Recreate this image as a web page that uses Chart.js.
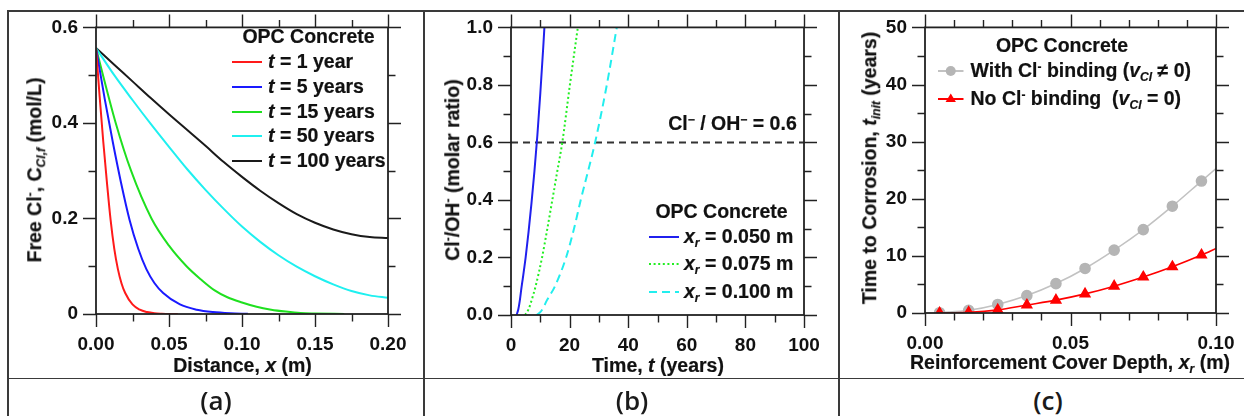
<!DOCTYPE html>
<html><head><meta charset="utf-8">
<script src="https://cdn.jsdelivr.net/npm/chart.js@4/dist/chart.umd.min.js"></script>
<style>
html,body{margin:0;padding:0;background:#fff;}
body{width:1244px;height:416px;overflow:hidden;position:relative;font-family:"Liberation Sans",Arial,sans-serif;}
canvas{position:absolute;}
.ln{position:absolute;background:#3a3a3a;}
.t{position:absolute;white-space:nowrap;font-weight:bold;font-size:19.5px;color:#111;line-height:1;-webkit-text-stroke:0.2px #111;}
.c{transform:translate(-50%,-50%);}
.l{transform:translate(0,-50%);}
.r{transform:translate(-50%,-50%) rotate(-90deg);}
sub,sup{font-size:0.62em;line-height:0;}
sub{vertical-align:-0.3em;}
sup{vertical-align:0.55em;}
.lab{position:absolute;font-family:"Open Sans",sans-serif;font-size:26px;font-weight:600;color:#1a1a1a;transform:translate(-50%,-50%);line-height:1;}
svg{position:absolute;overflow:visible;}
</style>
</head><body>
<canvas id="ca" width="416" height="367" style="left:8px;top:11px"></canvas>
<canvas id="cb" width="415" height="367" style="left:424px;top:11px"></canvas>
<canvas id="cc" width="405" height="367" style="left:839px;top:11px"></canvas>

<!-- table lines -->
<div class="ln" style="left:7px;top:10px;width:1237px;height:1.5px"></div>
<div class="ln" style="left:7px;top:377.5px;width:1237px;height:1.5px"></div>
<div class="ln" style="left:7px;top:10px;width:1.5px;height:406px"></div>
<div class="ln" style="left:423px;top:10px;width:1.5px;height:406px"></div>
<div class="ln" style="left:838px;top:10px;width:1.5px;height:406px"></div>

<!-- panel a texts -->
<div class="t c" style="left:242.5px;top:366px">Distance, <i>x</i> (m)</div>
<div class="t r" style="left:34.5px;top:170px">Free Cl<sup>-</sup>, C<sub><i>Cl,f</i></sub> (mol/L)</div>
<div class="t c" style="left:308.5px;top:37px">OPC Concrete</div>
<div id="legA"></div>
<div class="lab" style="left:216px;top:400px">(a)</div>

<!-- panel b texts -->
<div class="t c" style="left:658px;top:366px">Time, <i>t</i> (years)</div>
<div class="t r" style="left:452.5px;top:170px">Cl<sup>-</sup>/OH<sup>-</sup> (molar ratio)</div>
<div class="t c" style="left:732.5px;top:123.5px">Cl<sup>−</sup> / OH<sup>−</sup> = 0.6</div>
<div class="t c" style="left:721.5px;top:212px">OPC Concrete</div>
<div id="legB"></div>
<div class="lab" style="left:632px;top:400px">(b)</div>

<!-- panel c texts -->
<div class="t c" style="left:1070px;top:363px">Reinforcement Cover Depth, <i>x<sub>r</sub></i> (m)</div>
<div class="t r" style="left:870px;top:167.5px">Time to Corrosion, <i>t<sub>init</sub></i> (years)</div>
<div class="t c" style="left:1062px;top:46px">OPC Concrete</div>
<div id="legC"></div>
<div class="lab" style="left:1048px;top:400px">(c)</div>

<script>
// ---------------- DATA ----------------
// Panel (a): free chloride profile vs distance
const aXRed   = [0,0.0025,0.005,0.0075,0.01,0.0125,0.015,0.0175,0.02,0.025,0.03,0.035,0.04,0.045,0.05,0.056];
const aYRed   = [0.557,0.455,0.36,0.275,0.197,0.137,0.094,0.064,0.044,0.020,0.009,0.004,0.0015,0.0005,0,0];
const aXBlue  = [0,0.006,0.0115,0.017,0.023,0.029,0.0345,0.040,0.046,0.0575,0.069,0.080,0.092,0.104];
const aYBlue  = [0.557,0.450,0.360,0.277,0.197,0.136,0.094,0.065,0.044,0.020,0.009,0.004,0.0015,0.0005];
const aXGreen = [0,0.0135,0.024,0.038,0.05,0.062,0.072,0.081,0.09,0.1,0.11,0.12,0.13,0.14,0.15,0.17];
const aYGreen = [0.557,0.40,0.30,0.20,0.143,0.10,0.072,0.050,0.035,0.024,0.015,0.009,0.005,0.002,0.001,0];
const aXLong  = [0,0.0125,0.025,0.0375,0.05,0.0625,0.075,0.0875,0.1,0.1125,0.125,0.1375,0.15,0.1625,0.175,0.1875,0.2];
const aYCyan  = [0.557,0.500,0.448,0.398,0.350,0.303,0.260,0.220,0.183,0.151,0.123,0.099,0.079,0.062,0.048,0.039,0.034];
const aYBlack = [0.557,0.522,0.487,0.452,0.418,0.385,0.352,0.318,0.287,0.258,0.232,0.209,0.191,0.177,0.167,0.161,0.159];
const aSeriesNames = ['1 year','5 years','15 years','50 years','100 years'];
const aXTicks = [0,0.05,0.1,0.15,0.2];
const aXTickLabels = ['0.00','0.05','0.10','0.15','0.20'];
const aXMinor = [0.025,0.075,0.125,0.175];
const aYTicks = [0,0.2,0.4,0.6];
const aYTickLabels = ['0','0.2','0.4','0.6'];
const aYMinor = [0.1,0.3,0.5];

// Panel (b): Cl-/OH- ratio vs time
const bXBlue  = [1.9,2.5,3,3.6,4,5,6,7,8,9,10,11,11.4];
const bYBlue  = [0,0.02,0.05,0.097,0.125,0.20,0.29,0.39,0.50,0.625,0.77,0.93,1.0];
const bXGreen = [4.8,6,7,8.4,10.6,12.4,14.1,15.8,17.5,20.1,22.8];
const bYGreen = [0,0.02,0.05,0.10,0.20,0.30,0.40,0.50,0.60,0.80,1.0];
const bXCyan  = [8.8,10,11,12.2,15,18.8,21.5,23.8,26.3,28.7,32.7,36.1];
const bYCyan  = [0,0.01,0.025,0.05,0.10,0.20,0.30,0.40,0.50,0.60,0.80,1.0];
const bThreshold = 0.6;
const bSeriesNames = ['0.050 m','0.075 m','0.100 m'];
const bXTicks = [0,20,40,60,80,100];
const bXTickLabels = ['0','20','40','60','80','100'];
const bXMinor = [10,30,50,70,90];
const bYTicks = [0,0.2,0.4,0.6,0.8,1.0];
const bYTickLabels = ['0.0','0.2','0.4','0.6','0.8','1.0'];
const bYMinor = [0.1,0.3,0.5,0.7,0.9];

// Panel (c): time to corrosion vs cover depth
const cX     = [0.005,0.015,0.025,0.035,0.045,0.055,0.065,0.075,0.085,0.095,0.1];
const cYGray = [0.05,0.47,1.5,3.05,5.15,7.8,11.0,14.6,18.7,23.1,25.3];
const cYRed  = [0,0.12,0.55,1.4,2.25,3.35,4.7,6.3,8.1,10.15,11.3];
const cMarked = [1,1,1,1,1,1,1,1,1,1,0];
const cXTicks = [0,0.05,0.1];
const cXTickLabels = ['0.00','0.05','0.10'];
const cXMinor = [0.01,0.02,0.03,0.04,0.06,0.07,0.08,0.09];
const cYTicks = [0,10,20,30,40,50];
const cYTickLabels = ['0','10','20','30','40','50'];
const cYMinor = [5,15,25,35,45];

// ---------------- HELPERS ----------------
const pts = (xs, ys) => xs.map((x, i) => ({x, y: ys[i]}));
const FONT = {family: '"Liberation Sans", Arial, sans-serif', size: 19, weight: 'bold'};

const frameTicks = {
  id: 'frameTicks',
  afterDatasetsDraw(chart, args, o) {
    const {ctx, chartArea: {left, right, top, bottom}, scales: {x, y}} = chart;
    ctx.save();
    ctx.strokeStyle = '#222';
    ctx.lineCap = 'butt';
    ctx.lineWidth = 1.4;
    const M = 13, m = 7.5;
    ctx.beginPath();
    const xt = (vals, len) => vals.forEach(v => {
      const p = Math.round(x.getPixelForValue(v)) + 0.5;
      ctx.moveTo(p, bottom); ctx.lineTo(p, bottom + len);
      ctx.moveTo(p, top); ctx.lineTo(p, top - len);
    });
    const yt = (vals, len) => vals.forEach(v => {
      const p = Math.round(y.getPixelForValue(v)) + 0.5;
      ctx.moveTo(left, p); ctx.lineTo(left - len, p);
      ctx.moveTo(right, p); ctx.lineTo(right + len, p);
    });
    xt(o.xMajor, M); xt(o.xMinor, m); yt(o.yMajor, M); yt(o.yMinor, m);
    ctx.stroke();
    ctx.lineWidth = 1.8;
    ctx.strokeRect(left, top, right - left, bottom - top);
    ctx.restore();
  }
};

function makeChart(id, datasets, sx, sy, geom, tk) {
  return new Chart(document.getElementById(id), {
    type: 'line',
    data: {datasets},
    plugins: [frameTicks],
    options: {
      responsive: false, animation: false, events: [],
      layout: {padding: {left: 0, right: geom.padR, top: geom.padT, bottom: 0}},
      plugins: {legend: {display: false}, tooltip: {enabled: false}, frameTicks: tk},
      scales: {
        x: Object.assign({
          type: 'linear', position: 'bottom',
          grid: {display: false, drawTicks: true, tickLength: 13},
          border: {display: false},
          afterFit: s => { s.height = geom.xH; }
        }, sx),
        y: Object.assign({
          type: 'linear', position: 'left',
          grid: {display: false, drawTicks: true, tickLength: 13},
          border: {display: false},
          afterFit: s => { s.width = geom.yW; }
        }, sy)
      }
    }
  });
}
function tickScale(min, max, vals, labels, pad) {
  return {
    min, max,
    afterBuildTicks: s => { s.ticks = vals.map(v => ({value: v})); },
    ticks: {autoSkip: false, maxRotation: 0, padding: pad, color: '#111', font: FONT,
            callback: (v, i) => labels[i]}
  };
}
const line = (data, color, extra) => Object.assign({
  data, borderColor: color, backgroundColor: color, borderWidth: 2,
  pointRadius: 0, fill: false, cubicInterpolationMode: 'monotone'
}, extra || {});

// ---------------- PANEL A ----------------
const aColors = ['#ff1a1a', '#1a1aff', '#1fe01f', '#1ff0f0', '#1a1a1a'];
makeChart('ca', [
  line(pts(aXRed, aYRed), aColors[0]),
  line(pts(aXBlue, aYBlue), aColors[1]),
  line(pts(aXGreen, aYGreen), aColors[2]),
  line(pts(aXLong, aYCyan), aColors[3]),
  line(pts(aXLong, aYBlack), aColors[4])
], tickScale(0, 0.2, aXTicks, aXTickLabels, 6), tickScale(0, 0.6, aYTicks, aYTickLabels, 5),
  {padR: 36, padT: 13, xH: 64, yW: 88},
  {xMajor: aXTicks, xMinor: aXMinor, yMajor: aYTicks, yMinor: aYMinor});

// ---------------- PANEL B ----------------
const bColors = ['#2020ee', '#22ee22', '#22eeee'];
const bDash = [[], [2, 2.6], [8, 5]];
makeChart('cb', [
  line(pts(bXBlue, bYBlue), bColors[0]),
  line(pts(bXGreen, bYGreen), bColors[1], {borderDash: bDash[1]}),
  line(pts(bXCyan, bYCyan), bColors[2], {borderDash: bDash[2]}),
  line(pts([0, 100], [bThreshold, bThreshold]), '#333', {borderDash: [7, 5], cubicInterpolationMode: 'default', tension: 0})
], tickScale(0, 100, bXTicks, bXTickLabels, 6), tickScale(0, 1.0, bYTicks, bYTickLabels, 5),
  {padR: 35, padT: 13, xH: 63, yW: 87},
  {xMajor: bXTicks, xMinor: bXMinor, yMajor: bYTicks, yMinor: bYMinor});

// ---------------- PANEL C ----------------
makeChart('cc', [
  line(pts(cX, cYRed), '#ff0000', {borderWidth: 1.6, pointStyle: 'triangle', pointRadius: cMarked.map(k => k ? 5.5 : 0), order: 1}),
  line(pts(cX, cYGray), '#c2c2c2', {borderWidth: 1.6, pointStyle: 'circle', pointRadius: cMarked.map(k => k ? 5 : 0), pointBackgroundColor: '#b5b5b5', pointBorderColor: '#b5b5b5', order: 2})
], tickScale(0, 0.1, cXTicks, cXTickLabels, 6), tickScale(0, 50, cYTicks, cYTickLabels, 5),
  {padR: 28, padT: 13, xH: 65, yW: 86},
  {xMajor: cXTicks, xMinor: cXMinor, yMajor: cYTicks, yMinor: cYMinor});

// ---------------- LEGENDS ----------------
function sample(x1, x2, y, color, dash, marker) {
  const w = x2 - x1;
  let s = `<svg style="left:${x1}px;top:${y - 8}px" width="${w}" height="16">` +
          `<line x1="0" y1="8" x2="${w}" y2="8" stroke="${color}" stroke-width="2" ${dash ? `stroke-dasharray="${dash}"` : ''}/>`;
  if (marker === 'circle') s += `<circle cx="${w / 2}" cy="8" r="5" fill="#b5b5b5"/>`;
  if (marker === 'triangle') s += `<polygon points="${w / 2},2.5 ${w / 2 + 5.2},11 ${w / 2 - 5.2},11" fill="#ff0000"/>`;
  return s + '</svg>';
}
let h = '';
const aRows = [61.7, 86.7, 111.7, 136.2, 160.7];
aSeriesNames.forEach((n, i) => {
  h += sample(231.5, 261.5, aRows[i], aColors[i]);
  h += `<div class="t l" style="left:268px;top:${aRows[i]}px"><i>t</i> = ${n}</div>`;
});
document.getElementById('legA').innerHTML = h;

h = '';
const bRows = [236.7, 264.3, 292.3];
bSeriesNames.forEach((n, i) => {
  h += sample(648.5, 678.5, bRows[i], bColors[i], bDash[i].join(' '));
  h += `<div class="t l" style="left:684px;top:${bRows[i]}px"><i>x<sub>r</sub></i> = ${n}</div>`;
});
document.getElementById('legB').innerHTML = h;

h = '';
h += sample(937.5, 963, 71, '#c2c2c2', '', 'circle');
h += `<div class="t l" style="left:970.5px;top:71px">With Cl<sup>-</sup> binding (<i>v<sub>Cl</sub></i> ≠ 0)</div>`;
h += sample(937.5, 963, 99, '#ff0000', '', 'triangle');
h += `<div class="t l" style="left:970.5px;top:99px">No Cl<sup>-</sup> binding&nbsp; (<i>v<sub>Cl</sub></i> = 0)</div>`;
document.getElementById('legC').innerHTML = h;
</script>
</body></html>
